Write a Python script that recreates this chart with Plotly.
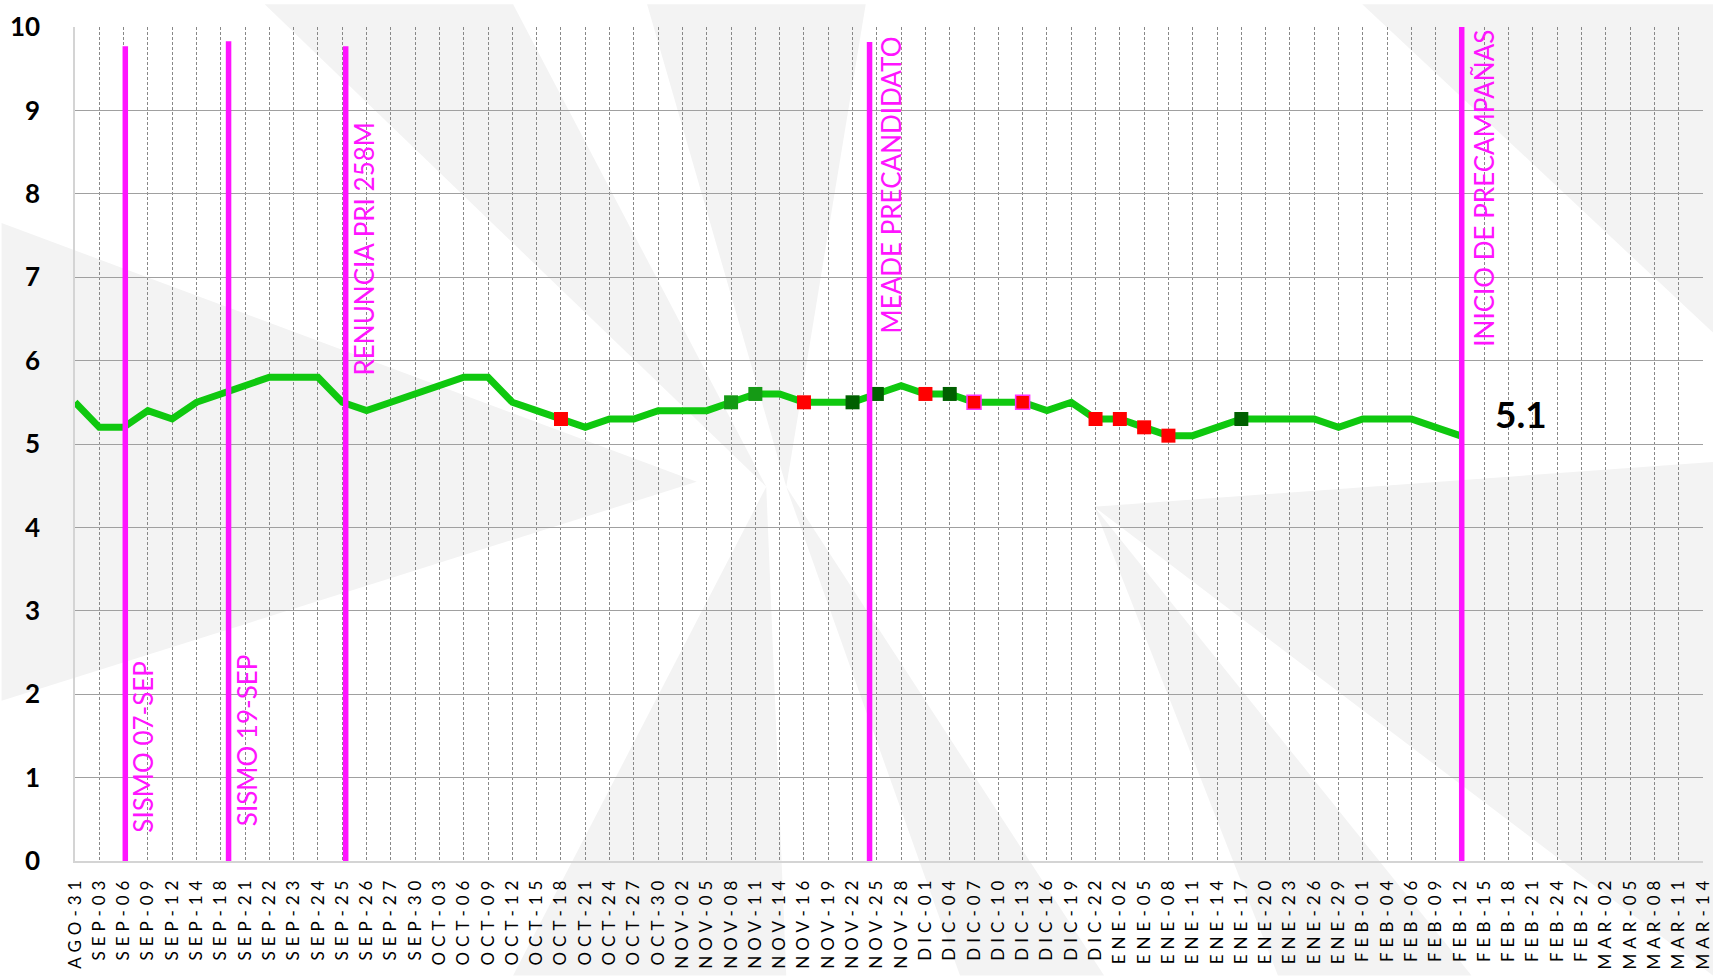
import plotly.graph_objects as go

categories = [
    "AGO-31", "SEP-03", "SEP-06", "SEP-09", "SEP-12", "SEP-14", "SEP-18", "SEP-21", "SEP-22",
    "SEP-23", "SEP-24", "SEP-25", "SEP-26", "SEP-27", "SEP-30", "OCT-03", "OCT-06", "OCT-09",
    "OCT-12", "OCT-15", "OCT-18", "OCT-21", "OCT-24", "OCT-27", "OCT-30", "NOV-02", "NOV-05",
    "NOV-08", "NOV-11", "NOV-14", "NOV-16", "NOV-19", "NOV-22", "NOV-25", "NOV-28", "DIC-01",
    "DIC-04", "DIC-07", "DIC-10", "DIC-13", "DIC-16", "DIC-19", "DIC-22", "ENE-02", "ENE-05",
    "ENE-08", "ENE-11", "ENE-14", "ENE-17", "ENE-20", "ENE-23", "ENE-26", "ENE-29", "FEB-01",
    "FEB-04", "FEB-06", "FEB-09", "FEB-12", "FEB-15", "FEB-18", "FEB-21", "FEB-24", "FEB-27",
    "MAR-02", "MAR-05", "MAR-08", "MAR-11", "MAR-14",
]

values = [
    5.5, 5.2, 5.2, 5.4, 5.3, 5.5, 5.6, 5.7, 5.8,
    5.8, 5.8, 5.5, 5.4, 5.5, 5.6, 5.7, 5.8, 5.8,
    5.5, 5.4, 5.3, 5.2, 5.3, 5.3, 5.4, 5.4, 5.4,
    5.5, 5.6, 5.6, 5.5, 5.5, 5.5, 5.6, 5.7, 5.6,
    5.6, 5.5, 5.5, 5.5, 5.4, 5.5, 5.3, 5.3, 5.2,
    5.1, 5.1, 5.2, 5.3, 5.3, 5.3, 5.3, 5.2, 5.3,
    5.3, 5.3, 5.2, 5.1, None, None, None, None, None,
    None, None, None, None, None,
]

red_points = ["OCT-18", "NOV-16", "DIC-01", "DIC-22", "ENE-02", "ENE-05", "ENE-08"]
red_outlined_points = ["DIC-07", "DIC-13"]
green_points = ["NOV-08", "NOV-11"]
dark_green_points = ["NOV-22", "NOV-25", "DIC-04", "ENE-17"]

event_labels = ["SISMO 07-SEP", "SISMO 19-SEP", "RENUNCIA PRI 258M", "MEADE PRECANDIDATO",
                "INICIO DE PRECAMPAÑAS"]
event_x = [2.07, 6.32, 11.14, 32.7, 57.07]
event_top = [9.77, 9.83, 9.77, 9.82, 10.03]
event_label_x = [2.82, 7.11, 11.88, 33.6, 58.0]
event_label_y = [0.31, 0.39, 5.80, 6.30, 6.14]

last_label = "5.1"

value_of = dict(zip(categories, values))

W, H = 1723, 976
L, R, T, B = 74, 10, 23, 115

fig = go.Figure()

# faint background watermark (pixel polygons -> paper coords)
watermark = [
    [(0, 220), (0, 700), (700, 480)],
    [(265, 0), (515, 0), (770, 485)],
    [(650, 0), (870, 0), (790, 485)],
    [(1723, 0), (1723, 330), (1370, 0)],
    [(1723, 460), (1723, 976), (1100, 505)],
    [(515, 976), (790, 976), (770, 485)],
    [(965, 976), (1110, 976), (790, 485)],
    [(1285, 976), (1480, 976), (1100, 505)],
]
pw, ph = W - L - R, H - T - B
for poly in watermark:
    pts = [((px - L) / pw, (H - B - py) / ph) for px, py in poly]
    path = "M " + " L ".join("%.4f,%.4f" % p for p in pts) + " Z"
    fig.add_shape(type="path", xref="paper", yref="paper", path=path,
                  fillcolor="#f3f3f3", line=dict(width=0), layer="below")

fig.add_trace(go.Scatter(
    x=categories, y=values, mode="lines",
    line=dict(color="#0fc80f", width=7), connectgaps=False, showlegend=False,
))


def add_markers(cats, color, line_color, line_width=0):
    fig.add_trace(go.Scatter(
        x=cats, y=[value_of[c] for c in cats], mode="markers",
        marker=dict(symbol="square", size=14, color=color,
                    line=dict(color=line_color, width=line_width)),
        showlegend=False,
    ))


add_markers(green_points, "#159a15", "#159a15")
add_markers(dark_green_points, "#005f00", "#005f00")
add_markers(red_points, "#ff0000", "#ff0000")
add_markers(red_outlined_points, "#ff0000", "#ff33ff", 1.5)

for xe, top in zip(event_x, event_top):
    fig.add_shape(type="line", xref="x", yref="y", x0=xe, x1=xe, y0=0, y1=top,
                  line=dict(color="#ff14ff", width=5.5))

for lab, lx, ly in zip(event_labels, event_label_x, event_label_y):
    fig.add_annotation(x=lx, y=ly, xref="x", yref="y", text=lab, textangle=-90,
                       showarrow=False, xanchor="center", yanchor="bottom",
                       font=dict(family="Lato", size=26, color="#ff14ff"))

fig.add_annotation(x=59.5, y=5.36, xref="x", yref="y", text="<b>%s</b>" % last_label,
                   showarrow=False, xanchor="center", yanchor="middle",
                   font=dict(family="Lato", size=37, color="#000000"))

fig.update_layout(
    width=W, height=H,
    margin=dict(l=L, r=R, t=T, b=B),
    paper_bgcolor="white", plot_bgcolor="rgba(0,0,0,0)",
    showlegend=False,
)
fig.update_xaxes(
    type="category", categoryorder="array", categoryarray=categories,
    range=[0, len(categories) - 1],
    tickmode="array", tickvals=categories, ticktext=categories,
    tickangle=-90, tickfont=dict(family="Lato", size=17, color="#000000"),
    ticklabelstandoff=6,
    showgrid=True, gridcolor="#888888", griddash="3px,2px", gridwidth=1,
    showline=True, linecolor="#d4d4d4", linewidth=1.5, ticks="", zeroline=False,
)
fig.update_yaxes(
    range=[0, 10], dtick=1, tick0=0,
    tickfont=dict(family="Lato", size=26, color="#000000", weight="bold"),
    ticklabelstandoff=28,
    showgrid=True, gridcolor="#a0a0a0", gridwidth=1.2,
    showline=True, linecolor="#d4d4d4", linewidth=1.5, ticks="", zeroline=False,
)

post = ("var s=document.createElement('style');"
        "s.textContent='body{margin:0} .xtick text{letter-spacing:5px}';"
        "document.head.appendChild(s);")
fig.write_html("out.html", post_script=post, config={"displayModeBar": False})
